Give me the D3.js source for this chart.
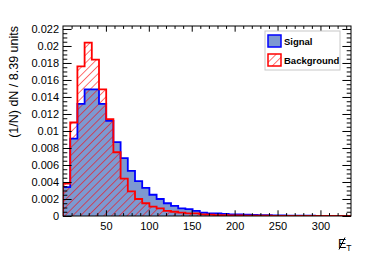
<!DOCTYPE html>
<html lang="en">
<head>
<meta charset="UTF-8">
<title>MET</title>
<script src="https://d3js.org/d3.v7.min.js"></script>
<style>
  body { margin: 0; background: #fff; }
  text { font-family: "Liberation Sans", Arial, sans-serif; }
</style>
</head>
<body>
<svg class="chart" width="374" height="253"></svg>
<script>
const binWidth = 8.39;
const nBins = 40;

// signal (blue, filled)
const signal = [0.0034, 0.0091, 0.0132, 0.0149, 0.0149, 0.0132, 0.0112, 0.0087, 0.0068, 0.0053,
                0.0041, 0.0033, 0.0025, 0.0020, 0.0015, 0.0012, 0.0009, 0.0008, 0.0006, 0.0004,
                0.0003, 0.0003, 0.00025, 0.0002, 0.0002, 0.00015, 0.00012, 0.0001, 0.0001, 0.00008,
                0.00006, 0.00005, 0.00004, 0.00003, 0.00003, 0.00002, 0.00002, 0.00002, 0.00001, 0.00001];
// background (red, hatched)
const background = [0.0038, 0.0110, 0.0176, 0.0204, 0.0184, 0.0149, 0.0114, 0.0075, 0.0044, 0.0029,
                    0.0020, 0.0015, 0.0011, 0.0009, 0.0006, 0.0005, 0.0004, 0.0003, 0.0003, 0.0002,
                    0.00015, 0.0001, 0.0001, 0.00008, 0.00006, 0.00005, 0.00004, 0.00003, 0.00003, 0.00002,
                    0.00002, 0.00002, 0.00001, 0.00001, 0.00001, 0.00001, 0.00001, 0.00001, 0.00001, 0.00001];

const xTicks = [50, 100, 150, 200, 250, 300];
const yTicks = [0, 0.002, 0.004, 0.006, 0.008, 0.01, 0.012, 0.014, 0.016, 0.018, 0.02, 0.022];
const legendLabels = ['Signal', 'Background'];

const svg = d3.select('.chart');
const frame = { left: 63, right: 351, top: 26, bottom: 216 };
const W = frame.right - frame.left, H = frame.bottom - frame.top;

const xScale = d3.scaleLinear().domain([0, binWidth * nBins]).range([frame.left, frame.right]);
const yScale = d3.scaleLinear().domain([0, 0.02235]).range([frame.bottom, frame.top]);

// hatch pattern
const defs = svg.append('defs');
const hatch = defs.append('pattern')
    .attr('id', 'hatch')
    .attr('patternUnits', 'userSpaceOnUse')
    .attr('width', 5.5).attr('height', 5.5)
    .attr('patternTransform', 'rotate(45)');
hatch.append('line')
    .attr('x1', 0).attr('y1', 0).attr('x2', 0).attr('y2', 5.5)
    .attr('stroke', '#ff0000').attr('stroke-width', 1.1);

defs.append('clipPath').attr('id', 'clip')
  .append('rect').attr('x', frame.left).attr('y', frame.top).attr('width', W).attr('height', H);

// step path for a histogram
function stepPath(vals) {
  const p = d3.path();
  p.moveTo(xScale(0), yScale(0));
  vals.forEach((v, i) => {
    p.lineTo(xScale(i * binWidth), yScale(v));
    p.lineTo(xScale((i + 1) * binWidth), yScale(v));
  });
  p.lineTo(xScale(nBins * binWidth), yScale(0));
  return p.toString();
}

const plot = svg.append('g').attr('clip-path', 'url(#clip)');

plot.append('path')
    .attr('d', stepPath(signal) + 'Z')
    .attr('fill', '#7d99d1').attr('stroke', 'none');
plot.append('path')
    .attr('d', stepPath(background) + 'Z')
    .attr('fill', 'url(#hatch)').attr('stroke', 'none');
plot.append('path')
    .attr('d', stepPath(signal))
    .attr('fill', 'none').attr('stroke', '#0000ff').attr('stroke-width', 1.8);
plot.append('path')
    .attr('d', stepPath(background))
    .attr('fill', 'none').attr('stroke', '#ff0000').attr('stroke-width', 1.8);

// axes, ROOT style: ticks inside, mirrored on top / right
const xMinor = d3.range(10, 336, 10).filter(v => v % 50 !== 0);
const yMinor = d3.range(0, 0.0224, 0.0005).filter((v, i) => i % 4 !== 0);

function axisGroup(axis, tx, ty) {
  const g = svg.append('g').attr('transform', `translate(${tx},${ty})`).call(axis);
  g.select('.domain').remove();
  g.selectAll('line').attr('stroke', '#000').attr('stroke-width', 1);
  return g;
}

const xLab = axisGroup(d3.axisBottom(xScale).tickValues(xTicks).tickSize(-5.7).tickPadding(6)
    .tickFormat(d => d), 0, frame.bottom);
xLab.selectAll('text').attr('font-size', 11).attr('fill', '#000');
axisGroup(d3.axisBottom(xScale).tickValues(xMinor).tickSize(-2.9).tickFormat(''), 0, frame.bottom);
axisGroup(d3.axisTop(xScale).tickValues(xTicks).tickSize(-5.7).tickFormat(''), 0, frame.top);
axisGroup(d3.axisTop(xScale).tickValues(xMinor).tickSize(-2.9).tickFormat(''), 0, frame.top);

const yLab = axisGroup(d3.axisLeft(yScale).tickValues(yTicks).tickSize(-8.6).tickPadding(4)
    .tickFormat(d => String(d)), frame.left, 0);
yLab.selectAll('text').attr('font-size', 11).attr('fill', '#000');
axisGroup(d3.axisLeft(yScale).tickValues(yMinor).tickSize(-4.3).tickFormat(''), frame.left, 0);
axisGroup(d3.axisRight(yScale).tickValues(yTicks).tickSize(-8.6).tickFormat(''), frame.right, 0);
axisGroup(d3.axisRight(yScale).tickValues(yMinor).tickSize(-4.3).tickFormat(''), frame.right, 0);

svg.append('rect')
    .attr('x', frame.left).attr('y', frame.top).attr('width', W).attr('height', H)
    .attr('fill', 'none').attr('stroke', '#000').attr('stroke-width', 1);

// axis titles
svg.append('text')
    .attr('transform', `translate(18,${frame.top}) rotate(-90)`)
    .attr('text-anchor', 'end')
    .attr('font-size', 12.5)
    .text('(1/N) dN / 8.39 units');

const xt = svg.append('text')
    .attr('x', 338).attr('y', 248)
    .attr('font-size', 12.5);
xt.append('tspan').text('E');
xt.append('tspan').attr('font-size', 8.5).attr('dy', 3).text('T');
// slash through the E (missing transverse energy)
svg.append('line')
    .attr('x1', 339).attr('y1', 249.5).attr('x2', 345).attr('y2', 237.5)
    .attr('stroke', '#000').attr('stroke-width', 1);

// legend
const lg = svg.append('g').attr('transform', 'translate(265,31)');
lg.append('rect').attr('width', 75).attr('height', 39)
    .attr('fill', '#fff').attr('stroke', '#c8c8c8').attr('stroke-width', 1);
const entries = lg.selectAll('g.entry').data(legendLabels).join('g')
    .attr('class', 'entry')
    .attr('transform', (d, i) => `translate(3,${4 + i * 19})`);
entries.append('rect')
    .attr('width', 13).attr('height', 12)
    .attr('fill', (d, i) => i === 0 ? '#7d99d1' : 'url(#hatch)')
    .attr('stroke', (d, i) => i === 0 ? '#0000ff' : '#ff0000')
    .attr('stroke-width', 1.5);
entries.append('text')
    .attr('x', 16).attr('y', 10)
    .attr('font-size', 9.5).attr('font-weight', 'bold')
    .text(d => d);
</script>
</body>
</html>
